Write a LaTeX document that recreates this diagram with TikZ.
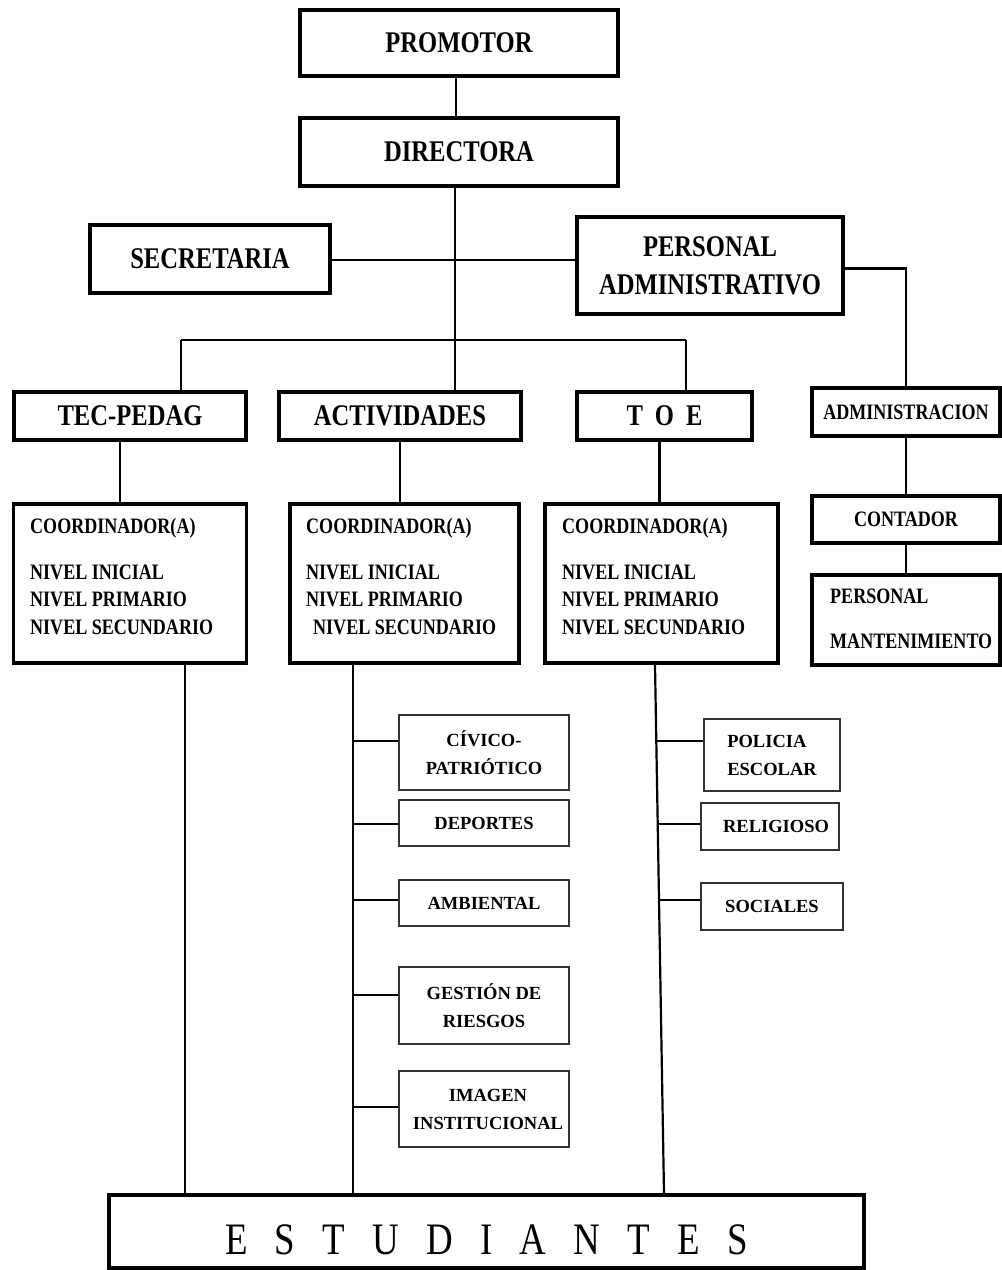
\documentclass[tikz,border=0pt]{standalone}
\usepackage{fontspec}
\setmainfont{Liberation Serif}
\newfontfamily\condserif[FakeStretch=0.82]{Liberation Serif}
\newcommand\fbig{\condserif\bfseries\fontsize{30}{38}\selectfont}
\newcommand\fmid{\condserif\bfseries\fontsize{22}{28}\selectfont}
\newcommand\fsmall{\rmfamily\bfseries\fontsize{18.5}{28}\selectfont}
\newcommand\fhuge{\condserif\fontsize{45}{50}\selectfont}
\begin{document}
\begin{tikzpicture}[x=1pt,y=-1pt,
  heavy/.style={draw, line width=3.5pt, inner sep=0pt, align=center},
  light/.style={draw=black!80, line width=1.8pt, inner sep=0pt, align=center, font=\fsmall},
  link/.style={line width=2.2pt},
  lbl/.style={anchor=west, inner sep=0pt, text height=0.66em, text depth=0pt},
  box/.style 2 args={minimum width=#1, minimum height=#2}]
\useasboundingbox (0,0) rectangle (1002,1270);

% top levels
\node[heavy, box={318pt}{66pt}, font=\fbig] (promotor) at (459,43) {PROMOTOR};
\node[heavy, box={318pt}{68pt}, font=\fbig] (directora) at (459,152) {DIRECTORA};
\node[heavy, box={240pt}{68pt}, font=\fbig] (secretaria) at (210,259) {SECRETARIA};
\node[heavy, box={266pt}{97pt}, font=\fbig] (persadm) at (710,265.5) {PERSONAL\\ADMINISTRATIVO};

% areas
\node[heavy, box={232pt}{48pt}, font=\fbig] (tecpedag) at (130,416) {TEC-PEDAG};
\node[heavy, box={242pt}{48pt}, font=\fbig] (actividades) at (400,416) {ACTIVIDADES};
\node[heavy, box={175pt}{48pt}, font=\fbig] (toe) at (664.5,416) {\makebox[76pt][s]{T\hfill O\hfill E}};
\node[heavy, box={188pt}{48pt}, font=\fmid] (administracion) at (906,412) {ADMINISTRACION};
\node[heavy, box={188pt}{47pt}, font=\fmid] (contador) at (906,519.5) {CONTADOR};
\node[heavy, box={188pt}{90pt}] (persmant) at (906,620) {};
\node[lbl, font=\fmid] (pm1) at (830,600) {PERSONAL};
\node[lbl, font=\fmid] (pm2) at (830,645) {MANTENIMIENTO};

% coordinator boxes
\node[heavy, box={233pt}{159pt}] (coordA) at (130,583.5) {};
\node[heavy, box={229pt}{159pt}] (coordB) at (404.5,583.5) {};
\node[heavy, box={233pt}{159pt}] (coordC) at (661.5,583.5) {};
\foreach \n/\x/\dx in {A/30/0, B/306/7, C/562/0}{
  \node[lbl, font=\fmid] (c\n1) at (\x,530) {COORDINADOR(A)};
  \node[lbl, font=\fmid] (c\n2) at (\x,576) {NIVEL INICIAL};
  \node[lbl, font=\fmid] (c\n3) at (\x,603) {NIVEL PRIMARIO};
  \node[lbl, font=\fmid] (c\n4) at (\x+\dx,631) {NIVEL SECUNDARIO};
}

% activity committees
\node[light, box={170pt}{75pt}] (civico) at (484,752.5) {C\'IVICO-\\PATRI\'OTICO};
\node[light, box={170pt}{46pt}] (deportes) at (484,823) {DEPORTES};
\node[light, box={170pt}{46pt}] (ambiental) at (484,903) {AMBIENTAL};
\node[light, box={170pt}{77pt}] (gestion) at (484,1005.5) {GESTI\'ON DE\\RIESGOS};
\node[light, box={170pt}{76pt}] (imagen) at (484,1109) {\hspace*{8pt}IMAGEN\\\hspace*{8pt}INSTITUCIONAL};

% T O E committees
\node[light, box={136pt}{72pt}, align=left] (policia) at (772,755) {POLICIA\\ESCOLAR};
\node[light, box={138pt}{47pt}] (religioso) at (770,826.5) {\hspace*{12pt}RELIGIOSO};
\node[light, box={142pt}{47pt}] (sociales) at (772,906.5) {SOCIALES};

% students
\node[heavy, box={755pt}{73pt}] (estudiantes) at (486.5,1231.5) {};
\node[inner sep=0pt, font=\fhuge] (estlbl) at (486.5,1240) {\makebox[523pt][s]{E\hfill S\hfill T\hfill U\hfill D\hfill I\hfill A\hfill N\hfill T\hfill E\hfill S}};

% connectors
\coordinate (hub) at (455,340);
\coordinate (barL) at (181,340);
\coordinate (barR) at (686,340);
\draw[link] ([xshift=-3pt]promotor.south) -- ([xshift=-3pt]directora.north);
\draw[link] ([xshift=-4pt]directora.south) -- (hub);
\draw[link] ([yshift=-1pt]secretaria.east) -- ([yshift=-1pt]secretaria.east -| persadm.west);
\draw[link] ([yshift=-3pt]persadm.east) -| (administracion.north);
\draw[link] (barL) -- (barR);
\draw[link] (barL) -- (barL |- tecpedag.north);
\draw[link] (hub) -- (hub |- actividades.north);
\draw[link] (barR) -- (barR |- toe.north);
\draw[link] ([xshift=-10pt]tecpedag.south) -- ([xshift=-10pt]tecpedag.south |- coordA.north);
\draw[link] (actividades.south) -- (actividades.south |- coordB.north);
\draw[link] ([xshift=-5pt]toe.south) -- ([xshift=-5pt]toe.south |- coordC.north);
\draw[link] (administracion.south) -- (contador.north);
\draw[link] (contador.south) -- (persmant.north);
\draw[link] ([xshift=55pt]coordA.south) -- ([xshift=55pt]coordA.south |- estudiantes.north);
\draw[link] ([xshift=-51.5pt]coordB.south) -- ([xshift=-51.5pt]coordB.south |- estudiantes.north);
\draw[link] ([xshift=-6.5pt]coordC.south) -- ([xshift=2.5pt]coordC.south |- estudiantes.north);

% committee branches
\draw[link] ([yshift=11.5pt]civico.west) -- ++(-46,0);
\draw[link] ([yshift=-1pt]deportes.west) -- ++(-46,0);
\draw[link] ([yshift=3pt]ambiental.west) -- ++(-46,0);
\draw[link] ([yshift=10.5pt]gestion.west) -- ++(-46,0);
\draw[link] ([yshift=2pt]imagen.west) -- ++(-46,0);
\draw[link] ([yshift=14pt]policia.west) -- ++(-47.3,0);
\draw[link] ([yshift=2.5pt]religioso.west) -- ++(-43,0);
\draw[link] ([yshift=6.5pt]sociales.west) -- ++(-41.7,0);
\end{tikzpicture}
\end{document}
